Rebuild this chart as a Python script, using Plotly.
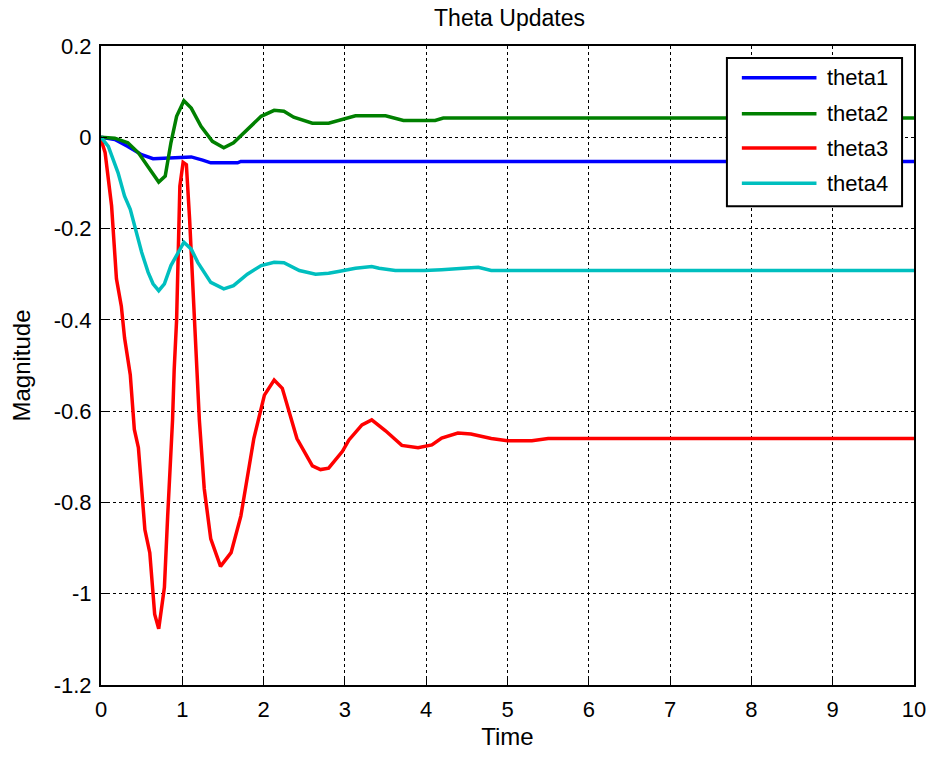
import plotly.graph_objects as go

t1 = [0, 0.17, 0.33, 0.50, 0.64, 0.80, 1.11, 1.25, 1.35, 1.68, 1.72, 10]
theta1 = [0, -0.005, -0.02, -0.038, -0.047, -0.046, -0.043, -0.05, -0.056, -0.056, -0.053, -0.053]

t2 = [0, 0.17, 0.33, 0.46, 0.60, 0.71, 0.79, 0.86, 0.93, 1.02, 1.11, 1.23, 1.37, 1.51, 1.63, 1.80,
      1.97, 2.13, 2.25, 2.37, 2.60, 2.80, 3.13, 3.50, 3.72, 4.11, 4.21, 10]
theta2 = [0, -0.002, -0.012, -0.034, -0.07, -0.098, -0.085, -0.012, 0.046, 0.080, 0.064, 0.024,
          -0.009, -0.023, -0.012, 0.017, 0.046, 0.059, 0.057, 0.044, 0.031, 0.031, 0.047, 0.047,
          0.037, 0.037, 0.042, 0.042]

t3 = [0, 0.05, 0.13, 0.19, 0.25, 0.29, 0.36, 0.41, 0.46, 0.54, 0.60, 0.66, 0.71, 0.78, 0.82, 0.88,
      0.90, 0.93, 0.97, 1.01, 1.05, 1.09, 1.15, 1.21, 1.27, 1.35, 1.47, 1.60, 1.72, 1.80, 1.88, 2.01,
      2.13, 2.23, 2.41, 2.60, 2.70, 2.80, 2.97, 3.05, 3.21, 3.33, 3.50, 3.70, 3.90, 4.07, 4.19, 4.39,
      4.55, 4.80, 5.00, 5.30, 5.50, 10]
theta3 = [-0.005, -0.033, -0.15, -0.31, -0.37, -0.44, -0.52, -0.64, -0.68, -0.86, -0.91, -1.045,
          -1.077, -0.986, -0.83, -0.62, -0.51, -0.40, -0.107, -0.055, -0.06, -0.18, -0.40, -0.62,
          -0.77, -0.88, -0.94, -0.91, -0.83, -0.75, -0.66, -0.565, -0.532, -0.55, -0.66, -0.72,
          -0.728, -0.725, -0.688, -0.663, -0.630, -0.619, -0.643, -0.675, -0.680, -0.674, -0.659,
          -0.648, -0.650, -0.66, -0.665, -0.665, -0.66, -0.66]

t4 = [0, 0.09, 0.21, 0.29, 0.36, 0.42, 0.50, 0.58, 0.64, 0.71, 0.78, 0.86, 0.95, 1.02, 1.11, 1.19,
      1.35, 1.51, 1.63, 1.80, 1.97, 2.13, 2.25, 2.44, 2.64, 2.80, 2.92, 3.13, 3.33, 3.42, 3.62, 3.98,
      4.19, 4.39, 4.64, 4.80, 10]
theta4 = [0, -0.02, -0.078, -0.129, -0.158, -0.20, -0.252, -0.296, -0.321, -0.336, -0.321, -0.281,
          -0.252, -0.230, -0.245, -0.274, -0.318, -0.332, -0.325, -0.30, -0.281, -0.274, -0.275,
          -0.292, -0.30, -0.298, -0.294, -0.287, -0.283, -0.287, -0.292, -0.292, -0.29, -0.287,
          -0.285, -0.292, -0.292]

x_ticks = list(range(0, 11))
y_ticks = [0.2, 0, -0.2, -0.4, -0.6, -0.8, -1, -1.2]
y_tick_text = ["0.2", "0", "-0.2", "-0.4", "-0.6", "-0.8", "-1", "-1.2"]

names = ["theta1", "theta2", "theta3", "theta4"]
colors = ["#0000ff", "#008000", "#ff0000", "#00bfbf"]
xs = [t1, t2, t3, t4]
ys = [theta1, theta2, theta3, theta4]

W, H = 938, 758
L, R, T, B = 101, 918, 46, 688

def px2x(px):
    return (px - L) / (R - L)

def py2y(py):
    return (B - py) / (B - T)

fig = go.Figure()
for name, x, y, c in zip(names, xs, ys, colors):
    fig.add_trace(go.Scatter(x=x, y=y, mode="lines", name=name,
                             line=dict(color=c, width=3.5), showlegend=False))

font = "Liberation Sans, Arial, sans-serif"
axis_common = dict(showline=True, linecolor="black", linewidth=2, mirror=True,
                   showgrid=True, gridcolor="black", gridwidth=1, griddash="dot",
                   zeroline=False, ticks="inside", ticklen=6, tickcolor="black",
                   tickfont=dict(family=font, size=22, color="black"))

# manual legend (box, line samples, labels)
shapes = [dict(type="rect", xref="paper", yref="paper",
               x0=px2x(730), x1=px2x(906), y0=py2y(207), y1=py2y(58),
               line=dict(color="black", width=2), fillcolor="white", layer="above")]
annotations = []
row_y = [78, 114, 148.5, 184]
for name, c, ry in zip(names, colors, row_y):
    shapes.append(dict(type="line", xref="paper", yref="paper",
                       x0=px2x(745), x1=px2x(820), y0=py2y(ry), y1=py2y(ry),
                       line=dict(color=c, width=3.5), layer="above"))
    annotations.append(dict(xref="paper", yref="paper", x=px2x(829), y=py2y(ry),
                            xanchor="left", yanchor="middle", text=name, showarrow=False,
                            font=dict(family=font, size=22, color="black")))

fig.update_layout(
    width=W, height=H,
    margin=dict(l=L, r=W - R, t=T, b=H - B),
    paper_bgcolor="white", plot_bgcolor="white",
    title=dict(text="Theta Updates", x=(L + R) / 2 / W, xanchor="center",
               y=1 - 18 / H, yanchor="middle",
               font=dict(family=font, size=23, color="black")),
    xaxis=dict(range=[0, 10], tickvals=x_ticks, ticklabelstandoff=4,
               title=dict(text="Time", standoff=7,
                          font=dict(family=font, size=24, color="black")), **axis_common),
    yaxis=dict(range=[-1.2, 0.2], tickvals=y_ticks, ticktext=y_tick_text, ticklabelstandoff=3,
               title=dict(text="Magnitude", standoff=16,
                          font=dict(family=font, size=24, color="black")), **axis_common),
    shapes=shapes,
    annotations=annotations,
    showlegend=False,
)

fig.write_html("out.html")
